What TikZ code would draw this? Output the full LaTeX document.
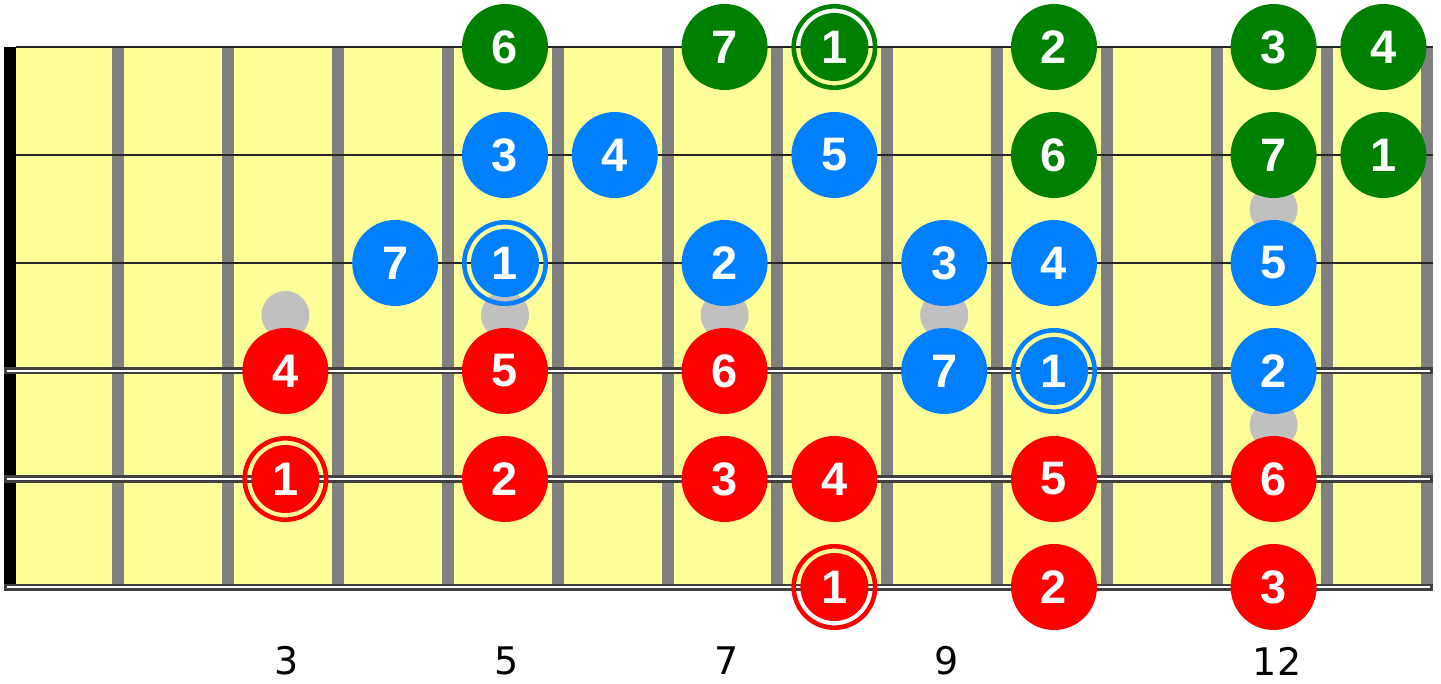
\documentclass[tikz,border=0pt]{standalone}
\usepackage{fontspec}
\setmainfont{Liberation Sans}
\newfontfamily\numfont{DejaVu Sans}
\definecolor{fbyellow}{HTML}{FFFF99}
\definecolor{fretgray}{HTML}{808080}
\definecolor{markgray}{HTML}{C0C0C0}
\definecolor{ngreen}{HTML}{008000}
\definecolor{nblue}{HTML}{0080FF}
\definecolor{nred}{HTML}{FF0000}
\definecolor{wounddark}{HTML}{404040}
\tikzset{
  notedot/.style={circle, inner sep=0pt, minimum size=86pt, text=white,
    font=\fontsize{47}{47}\selectfont\bfseries},
  rootfill/.style={circle, inner sep=0pt, minimum size=68pt, text=white,
    font=\fontsize{47}{47}\selectfont\bfseries},
  rootring/.style={circle, inner sep=0pt, minimum size=81.4pt, line width=4.6pt, fill=none},
  fretbar/.style={fill=fretgray},
  marker/.style={fill=markgray},
  plainstring/.style={line width=2.2pt, draw=black!85},
  woundouter/.style={line width=7pt, draw=wounddark},
  woundinner/.style={line width=2.6pt, draw=white},
  fretnum/.style={inner sep=0pt, font=\numfont\fontsize{38}{38}\selectfont, text=black}
}
\begin{document}
\begin{tikzpicture}[x=1pt,y=-1pt]
\useasboundingbox (0,0) rectangle (1441,684);
% fretboard
\fill[fbyellow] (16,47) rectangle (1421,587);
\foreach \k in {1,...,12} {
  \fill[fretbar] ({118+109.9*(\k-1)-6},47) rectangle +(12,540);
}
\fill[fretbar] (1421,47) rectangle (1433,587);
% nut
\fill[black] (4,47) rectangle (16,591);
% strings
\foreach \y in {47,155,263} {
  \draw[plainstring] (16,\y) -- (1433,\y);
}
\foreach \y in {371,479,587} {
  \draw[woundouter] (4,\y) -- (1433,\y);
  \draw[woundinner] (7,\y) -- (1430,\y);
}
% fret markers
\foreach \f in {3,5,7,9} {
  \fill[marker] ({109.8*\f-44},315) circle (24);
}
\fill[marker] ({109.8*12-44},209) circle (24);
\fill[marker] ({109.8*12-44},425) circle (24);
% notes
\foreach \s/\f/\c/\t in {
  1/5/ngreen/6, 1/7/ngreen/7, 1/10/ngreen/2, 1/12/ngreen/3, 1/13/ngreen/4,
  2/5/nblue/3, 2/6/nblue/4, 2/8/nblue/5, 2/10/ngreen/6, 2/12/ngreen/7, 2/13/ngreen/1,
  3/4/nblue/7, 3/7/nblue/2, 3/9/nblue/3, 3/10/nblue/4, 3/12/nblue/5,
  4/3/nred/4, 4/5/nred/5, 4/7/nred/6, 4/9/nblue/7, 4/12/nblue/2,
  5/5/nred/2, 5/7/nred/3, 5/8/nred/4, 5/10/nred/5, 5/12/nred/6,
  6/10/nred/2, 6/12/nred/3} {
  \node[notedot, fill=\c] (n\s-\f) at ({109.8*\f-44},{47+108*(\s-1)}) {\t};
}
% root notes
\foreach \s/\f/\c in {1/8/ngreen, 3/5/nblue, 4/10/nblue, 5/3/nred, 6/8/nred} {
  \node[rootring, draw=\c] (r\s-\f) at ({109.8*\f-44},{47+108*(\s-1)}) {};
  \node[rootfill, fill=\c] (n\s-\f) at (r\s-\f.center) {1};
}
% fret numbers
\node[fretnum] (fn3) at (287,661) {3};
\node[fretnum] (fn5) at (507,661) {5};
\node[fretnum] (fn7) at (727,661) {7};
\node[fretnum] (fn9) at (947,661) {9};
\node[fretnum] (fn12) at (1277,661) {12};
\end{tikzpicture}
\end{document}
